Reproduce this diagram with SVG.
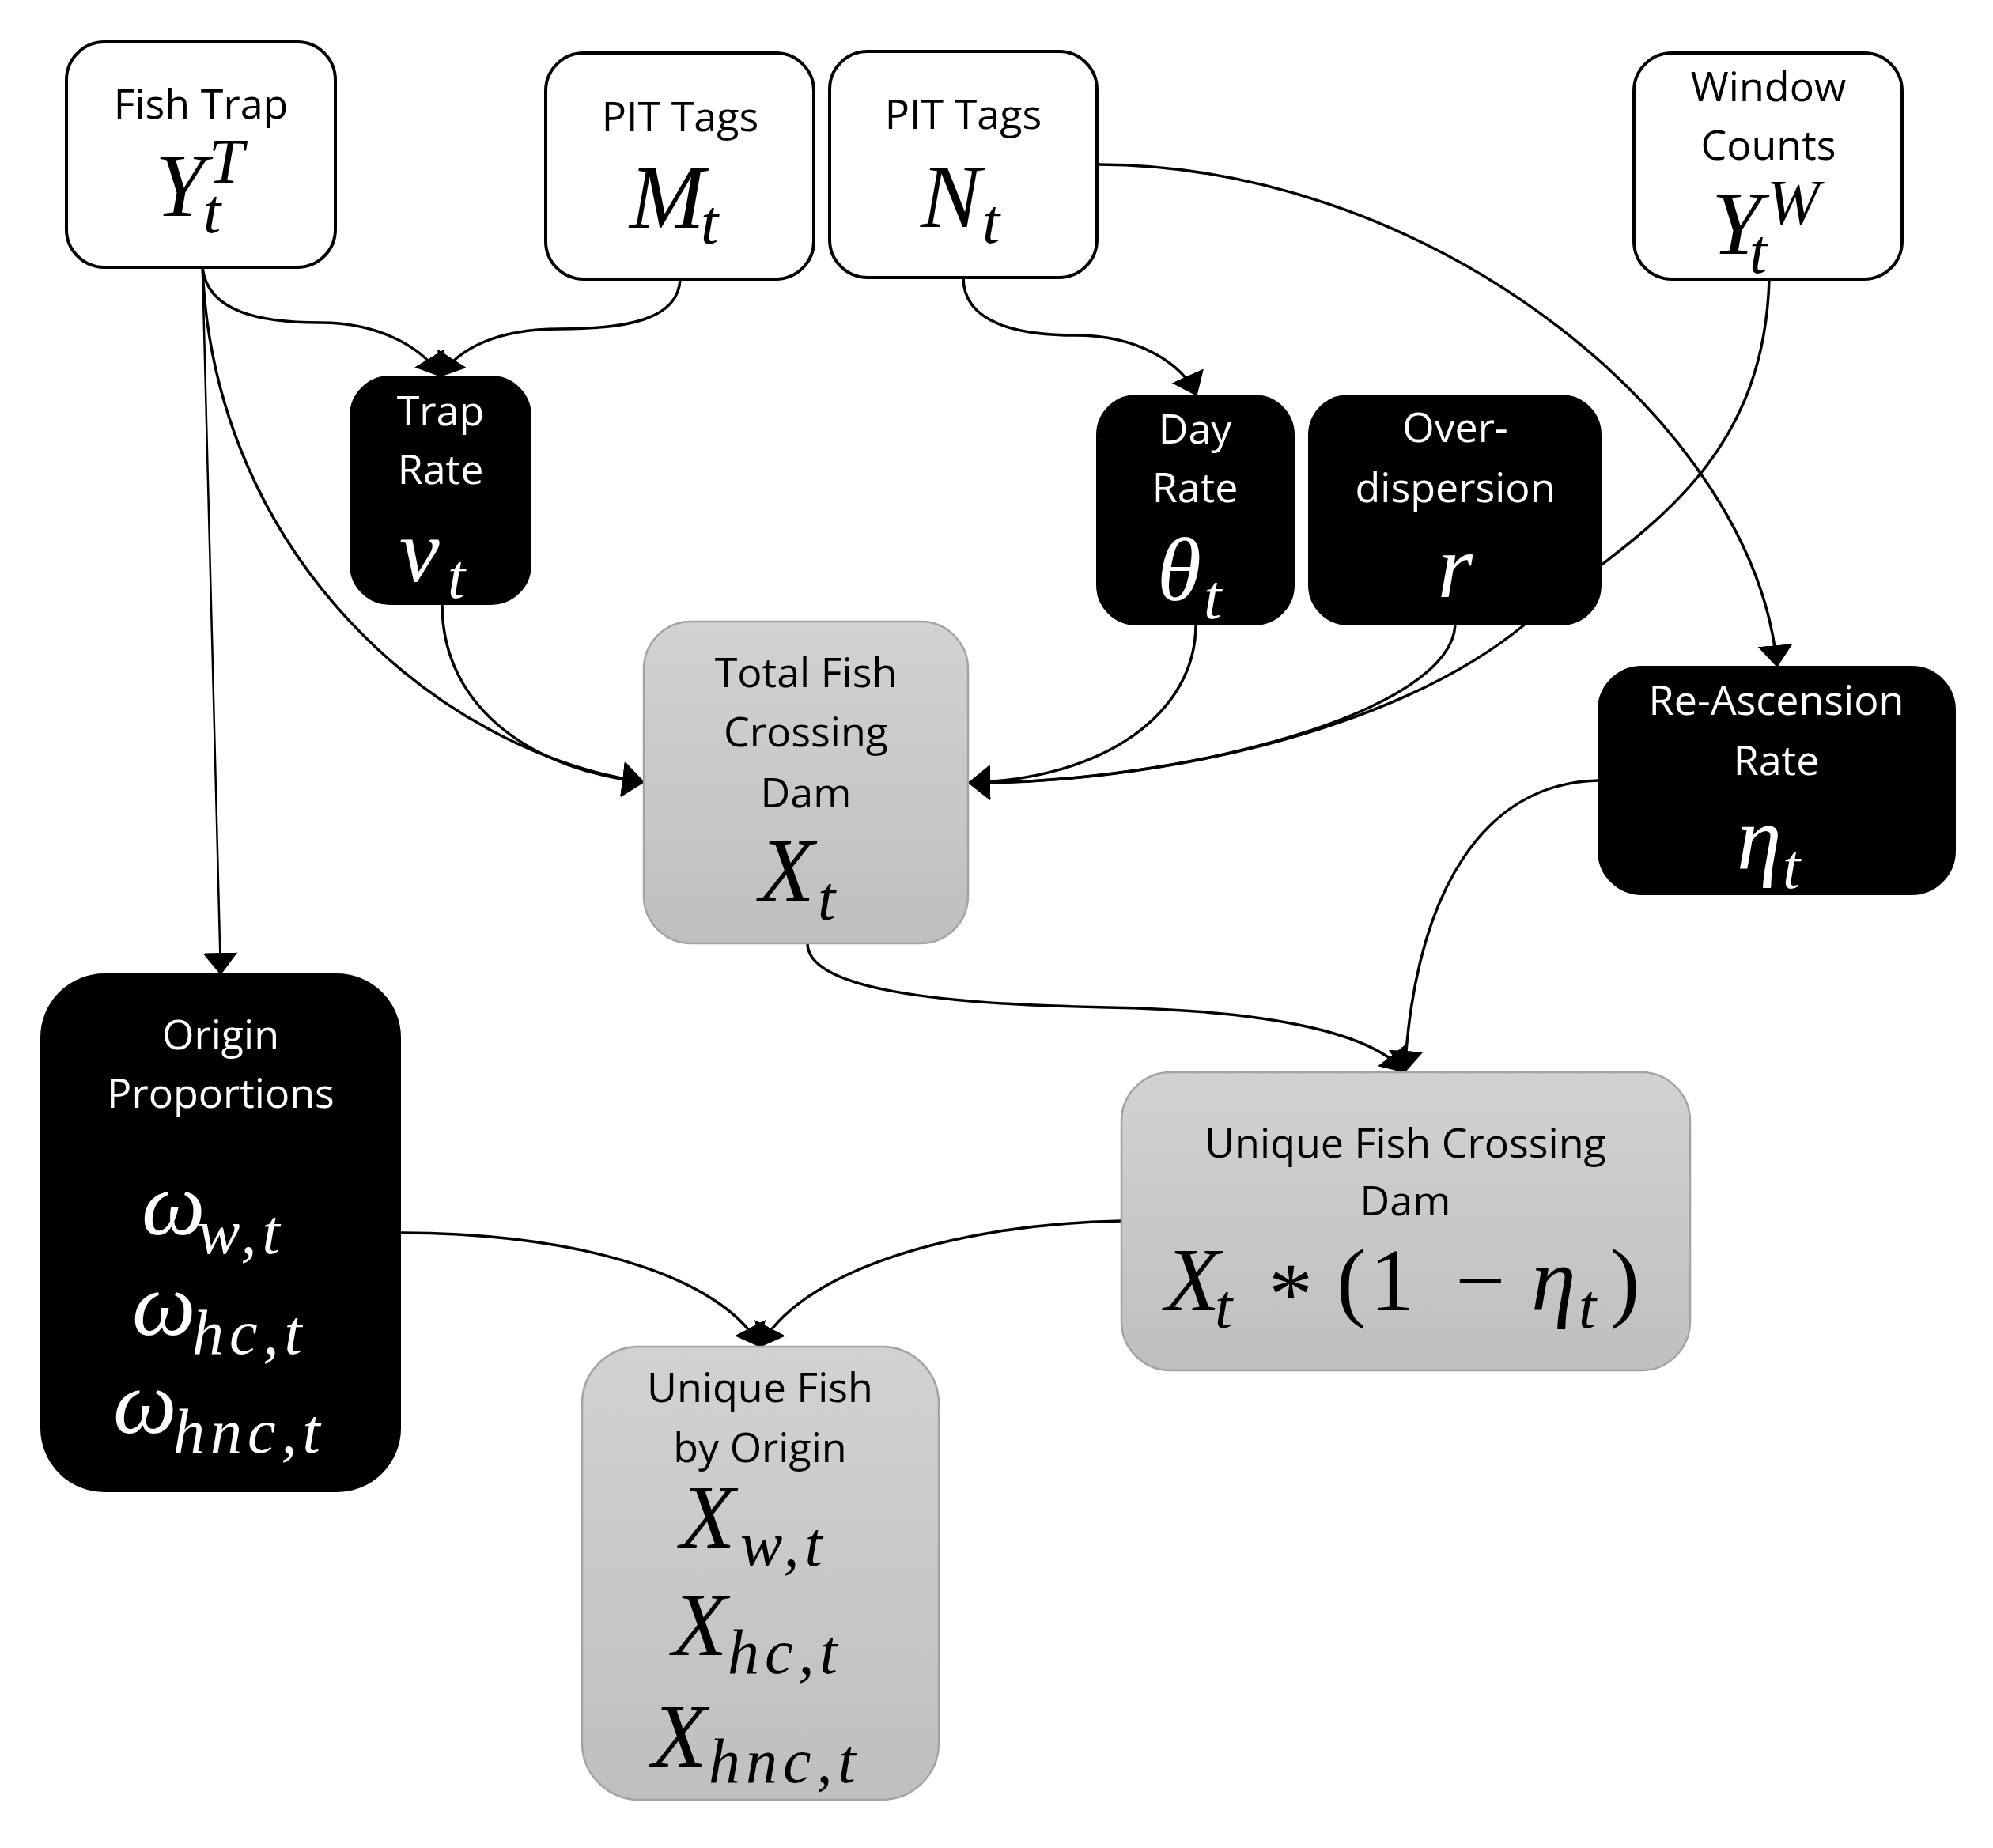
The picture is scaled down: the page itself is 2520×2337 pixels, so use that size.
<svg xmlns="http://www.w3.org/2000/svg" width="2520" height="2337" viewBox="0 0 2520 2337">
<defs>
<linearGradient id="gray" x1="0" y1="0" x2="0" y2="1">
<stop offset="0" stop-color="#d2d2d2"/>
<stop offset="1" stop-color="#bfbfbf"/>
</linearGradient>
<marker id="arr" viewBox="0 0 28 44" refX="27" refY="22" markerWidth="28" markerHeight="44" markerUnits="userSpaceOnUse" orient="auto">
<path d="M0,0 L28,22 L0,44 Z" fill="#000"/>
</marker>
<style>
.lbl{font-family:"Open Sans","Liberation Sans",Arial,sans-serif;font-size:52px;text-anchor:middle;fill:#000}
.wl{fill:#fff}
.m{font-family:"Liberation Serif","Times New Roman","DejaVu Serif",serif;font-style:italic;font-size:114px;fill:#000}
.s{font-family:"Liberation Serif","Times New Roman","DejaVu Serif",serif;font-style:italic;font-size:80px;fill:#000}
.ls{letter-spacing:7px}
.u{font-family:"Liberation Serif","Times New Roman","DejaVu Serif",serif;font-size:112px;fill:#000}
.wm{fill:#fff}
.wbox{fill:#fff;stroke:#000;stroke-width:4}
.bbox{fill:#000;stroke:#000;stroke-width:2}
.gbox{fill:url(#gray);stroke:#a3a3a3;stroke-width:2.5}
.c{fill:none;stroke:#000;stroke-width:3.5;marker-end:url(#arr)}
.thin{stroke-width:2.5}
</style>
</defs>
<rect width="2520" height="2337" fill="#fff"/>
<g id="connectors">
<path class="c" d="M256,338 C262,395 330,408 405,408 C480,408 535,440 557,476"/>
<path class="c" d="M860,353 C858,405 790,416 707,416 C630,416 580,440 557,476"/>
<path class="c" d="M1218,351 C1218,410 1290,424 1360,424 C1440,424 1495,460 1513,500"/>
<path class="c" d="M1389,208 C1820,210 2220,540 2247,843"/>
<path class="c" d="M2237,353 C2230,600 2060,680 1930,788 C1760,930 1450,990 1225,990"/>
<path class="c" d="M1840,790 C1835,900 1500,990 1225,990"/>
<path class="c" d="M1512,790 C1512,900 1400,985 1225,990"/>
<path class="c" d="M256,338 C270,700 550,950 814,989"/>
<path class="c" d="M559,764 C559,900 680,975 814,989"/>
<path class="c thin" d="M256,338 L279,1232"/>
<path class="c" d="M1021,1193 C1021,1250 1180,1270 1400,1274 C1620,1278 1740,1310 1776,1356"/>
<path class="c" d="M2021,987 C1880,990 1790,1120 1776,1356"/>
<path class="c" d="M506,1559 C760,1560 920,1625 961,1703"/>
<path class="c" d="M1418,1544 C1200,1548 1010,1610 961,1703"/>
</g>
<g id="fish-trap">
<rect class="wbox" x="84" y="53" width="340" height="285" rx="48"/>
<text class="lbl" x="254" y="150">Fish Trap</text>
<text class="m" x="196" y="273">Y</text>
<text class="s" x="257" y="294">t</text>
<text class="s" x="264" y="231">T</text>
</g>
<g id="pit-tags-m">
<rect class="wbox" x="690" y="67" width="339" height="286" rx="48"/>
<text class="lbl" x="860" y="166">PIT Tags</text>
<text class="m" x="796" y="288">M</text>
<text class="s" x="886" y="308">t</text>
</g>
<g id="pit-tags-n">
<rect class="wbox" x="1049" y="65" width="338" height="286" rx="48"/>
<text class="lbl" x="1218" y="163">PIT Tags</text>
<text class="m" x="1164" y="287">N</text>
<text class="s" x="1242" y="307">t</text>
</g>
<g id="window-counts">
<rect class="wbox" x="2066" y="67" width="339" height="286" rx="48"/>
<text class="lbl" x="2236" y="128">Window</text>
<text class="lbl" x="2236" y="202">Counts</text>
<text class="m" x="2164" y="321">Y</text>
<text class="s" x="2212" y="345">t</text>
<text class="s" x="2234" y="283">W</text>
</g>
<g id="trap-rate">
<rect class="bbox" x="443" y="476" width="228" height="288" rx="50"/>
<text class="lbl wl" x="557" y="538">Trap</text>
<text class="lbl wl" x="557" y="612">Rate</text>
<text class="m wm" x="505" y="735">ν</text>
<text class="s wm" x="566" y="756">t</text>
</g>
<g id="day-rate">
<rect class="bbox" x="1387" y="500" width="249" height="290" rx="50"/>
<text class="lbl wl" x="1511" y="561">Day</text>
<text class="lbl wl" x="1511" y="635">Rate</text>
<text class="m wm" x="1463" y="759">θ</text>
<text class="s wm" x="1522" y="782">t</text>
</g>
<g id="over-dispersion">
<rect class="bbox" x="1655" y="500" width="369" height="290" rx="50"/>
<text class="lbl wl" x="1840" y="559">Over-</text>
<text class="lbl wl" x="1840" y="635">dispersion</text>
<text class="m wm" x="1840" y="755" text-anchor="middle">r</text>
</g>
<g id="total-fish">
<rect class="gbox" x="814" y="786" width="410" height="407" rx="60"/>
<text class="lbl" x="1019" y="869">Total Fish</text>
<text class="lbl" x="1019" y="944">Crossing</text>
<text class="lbl" x="1019" y="1021">Dam</text>
<text class="m" x="960" y="1139">X</text>
<text class="s" x="1034" y="1163">t</text>
</g>
<g id="re-ascension">
<rect class="bbox" x="2021" y="843" width="451" height="288" rx="55"/>
<text class="lbl wl" x="2246" y="904">Re-Ascension</text>
<text class="lbl wl" x="2246" y="980">Rate</text>
<text class="m wm" x="2196" y="1099">η</text>
<text class="s wm" x="2254" y="1123">t</text>
</g>
<g id="origin-proportions">
<rect class="bbox" x="52" y="1232" width="454" height="654" rx="80"/>
<text class="lbl wl" x="279" y="1327">Origin</text>
<text class="lbl wl" x="279" y="1401">Proportions</text>
<text class="m wm" x="179" y="1561">ω</text>
<text class="s ls wm" x="250" y="1585">w,t</text>
<text class="m wm" x="167" y="1688">ω</text>
<text class="s ls wm" x="243" y="1712">hc,t</text>
<text class="m wm" x="143" y="1812">ω</text>
<text class="s ls wm" x="219" y="1837">hnc,t</text>
</g>
<g id="unique-fish-crossing">
<rect class="gbox" x="1418" y="1356" width="719" height="377" rx="62"/>
<text class="lbl" x="1777" y="1464">Unique Fish Crossing</text>
<text class="lbl" x="1777" y="1537">Dam</text>
<text class="m" x="1473" y="1657">X</text>
<text class="s" x="1536" y="1679">t</text>
<text class="u" x="1604" y="1674">*</text>
<text class="u" x="1690" y="1657">(</text>
<text class="u" x="1732" y="1657">1</text>
<text class="u" x="1840" y="1657">−</text>
<text class="m" x="1936" y="1657">η</text>
<text class="s" x="1996" y="1679">t</text>
<text class="u" x="2036" y="1657">)</text>
</g>
<g id="unique-fish-origin">
<rect class="gbox" x="736" y="1703" width="451" height="573" rx="72"/>
<text class="lbl" x="961" y="1773">Unique Fish</text>
<text class="lbl" x="961" y="1849">by Origin</text>
<text class="m" x="860" y="1957">X</text>
<text class="s ls" x="936" y="1980">w,t</text>
<text class="m" x="850" y="2093">X</text>
<text class="s ls" x="920" y="2116">hc,t</text>
<text class="m" x="824" y="2234">X</text>
<text class="s ls" x="896" y="2254">hnc,t</text>
</g>
</svg>
